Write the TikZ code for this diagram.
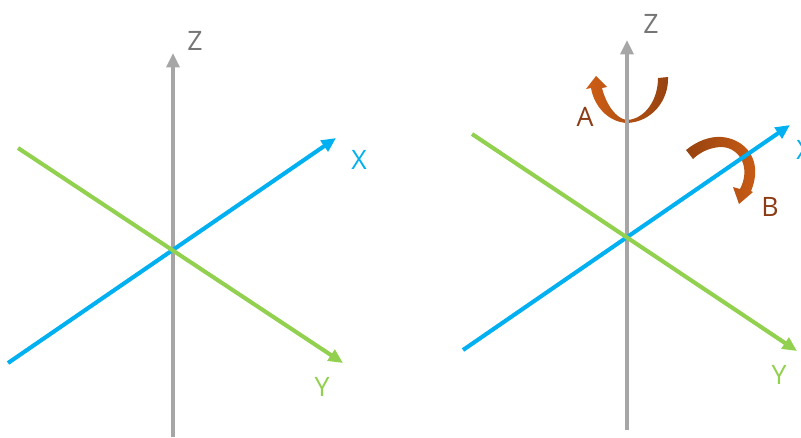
\documentclass[tikz,border=0pt]{standalone}
\usepackage{fontspec}
\setmainfont{Open Sans}
\usetikzlibrary{arrows.meta}
\definecolor{axisgray}{RGB}{166, 166, 166}
\definecolor{labelgray}{RGB}{118, 118, 118}
\definecolor{axisblue}{RGB}{0, 176, 240}
\definecolor{axisgreen}{RGB}{146, 208, 80}
\definecolor{rotbrown}{RGB}{150, 66, 16}
\definecolor{rotorange}{RGB}{206, 94, 22}
\definecolor{rotlabel}{RGB}{140, 60, 20}
\tikzset{
    axisline/.style={line width=2.9pt, -{Triangle[length=0.36cm, width=0.32cm]}},
    axislabel/.style={font=\fontsize{19}{19}\selectfont, inner sep=0pt}
}

\begin{document}
\begin{tikzpicture}[x=0.025cm, y=-0.025cm]
    \useasboundingbox (0,0) rectangle (801,437);

    % Left Frame
    \coordinate (lz0) at (173, 437);  \coordinate (lz1) at (173, 53);
    \coordinate (lx0) at (8, 363);    \coordinate (lx1) at (336, 138);
    \coordinate (ly0) at (18, 148);   \coordinate (ly1) at (343, 363);
    \draw[axisline, axisgray] (lz0) -- (lz1);
    \draw[axisline, axisblue] (lx0) -- (lx1);
    \draw[axisline, axisgreen] (ly0) -- (ly1);
    \node[axislabel, text=labelgray] (lzlabel) at (195, 41) {Z};
    \node[axislabel, text=axisblue] (lxlabel) at (359, 160) {X};
    \node[axislabel, text=axisgreen] (lylabel) at (322, 387) {Y};

    % Right Frame: rotations first, axes on top
    \shade[left color=rotorange, right color=rotbrown]
        (668, 77) .. controls (669, 100) and (652, 122) .. (627, 123)
        .. controls (608, 122) and (594, 106) .. (591, 88)
        -- (586, 89) -- (596, 76) -- (607, 87) -- (602, 88)
        .. controls (606, 104) and (616, 119) .. (627, 120)
        .. controls (645, 119) and (658, 100) .. (658, 78) -- cycle;
    \shade[left color=rotbrown, right color=rotorange]
        (686, 150) .. controls (697, 141) and (710, 136) .. (722, 137)
        .. controls (745, 139) and (764, 160) .. (751, 191)
        -- (753, 192) -- (739, 204) -- (733, 187) -- (740, 189)
        .. controls (751, 168) and (740, 148) .. (722, 147)
        .. controls (711, 147) and (700, 152) .. (693, 159) -- cycle;

    \coordinate (rz0) at (627, 430);  \coordinate (rz1) at (627, 40);
    \coordinate (rx0) at (463, 350);  \coordinate (rx1) at (790, 125);
    \coordinate (ry0) at (472, 134);  \coordinate (ry1) at (797, 351);
    \draw[axisline, axisgray] (rz0) -- (rz1);
    \draw[axisline, axisblue] (rx0) -- (rx1);
    \draw[axisline, axisgreen] (ry0) -- (ry1);
    \node[axislabel, text=labelgray] (rzlabel) at (651, 24) {Z};
    \node[axislabel, text=axisblue] (rxlabel) at (804, 150) {X};
    \node[axislabel, text=axisgreen] (rylabel) at (779, 375) {Y};
    \node[axislabel, text=rotlabel] (alabel) at (585, 117) {A};
    \node[axislabel, text=rotlabel] (blabel) at (770, 207) {B};
\end{tikzpicture}
\end{document}
